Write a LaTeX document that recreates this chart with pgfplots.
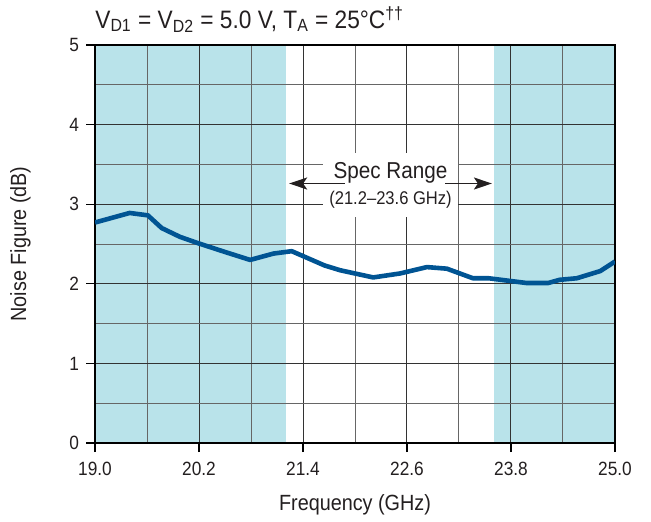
\documentclass[border=0pt]{standalone}
\usepackage{fontspec}
\setmainfont{Liberation Sans}[FakeStretch=0.9]
\usepackage{pgfplots}
\pgfplotsset{compat=1.18}
\usetikzlibrary{arrows.meta}

\definecolor{shade}{HTML}{B9E3EA}
\definecolor{nfblue}{RGB}{0,84,147}
\definecolor{txt}{HTML}{231F20}

\begin{document}
\begin{tikzpicture}
\begin{axis}[
    name=ax,
    set layers,
    scale only axis,
    width=260pt, height=199pt,
    xmin=19, xmax=25, ymin=0, ymax=5,
    xtick={19,20.2,21.4,22.6,23.8,25},
    ytick={0,1,2,3,4,5},
    minor x tick num=1,
    minor y tick num=1,
    grid=both,
    major grid style={black!80, line width=0.5pt},
    minor grid style={black!60, line width=0.5pt},
    axis line style={line width=1pt, black},
    tick align=outside,
    xtick pos=bottom, ytick pos=left,
    major tick length=4.5pt,
    minor tick length=0pt,
    tick style={black, line width=0.6pt},
    tick label style={font=\fontsize{9.6}{11}\selectfont, text=txt},
    /pgf/number format/assume math mode=true,
    xticklabel style={yshift=-1.5pt, /pgf/number format/.cd, fixed, fixed zerofill, precision=1},
    label style={font=\fontsize{11}{13}\selectfont, text=txt},
    xlabel={Frequency (GHz)},
    ylabel={Noise Figure (dB)},
    xlabel style={yshift=-2.5pt},
    ylabel style={yshift=12.5pt},
]
% out-of-spec bands
\addplot[on layer=axis background, fill=shade, draw=none]
    coordinates {(19,0) (21.2,0) (21.2,5) (19,5)} -- cycle;
\addplot[on layer=axis background, fill=shade, draw=none]
    coordinates {(23.6,0) (25,0) (25,5) (23.6,5)} -- cycle;

% noise figure curve
\addplot[nfblue, line width=2.3pt, line join=round, no markers] table {
x y
19.00 2.77
19.40 2.89
19.61 2.86
19.77 2.70
19.98 2.59
20.19 2.51
20.50 2.40
20.79 2.30
21.06 2.38
21.27 2.41
21.65 2.23
21.83 2.17
22.21 2.08
22.52 2.13
22.83 2.21
23.06 2.19
23.36 2.07
23.54 2.07
23.98 2.01
24.23 2.01
24.36 2.05
24.56 2.07
24.83 2.16
25.00 2.28
};

\node[fill=white, inner sep=0pt, minimum width=67.5pt, minimum height=32pt,
      align=center, text=txt] at (axis cs:22.41,3.24)
    {{\fontsize{11.5}{13}\selectfont Spec Range}\\[1pt]
     {\fontsize{9.2}{10}\selectfont (21.2–23.6 GHz)}};
\draw[txt, line width=0.9pt, -{Stealth[length=9pt, width=6pt, inset=2pt]}]
    (axis cs:21.88,3.26) -- (axis cs:21.24,3.26);
\draw[txt, line width=0.9pt, -{Stealth[length=9pt, width=6pt, inset=2pt]}]
    (axis cs:23.04,3.26) -- (axis cs:23.58,3.26);
\end{axis}
\node[anchor=base west, text=txt, font=\fontsize{12.6}{14}\selectfont, inner sep=0pt]
    at ([yshift=8.5pt]ax.north west)
    {V\textsubscript{D1} = V\textsubscript{D2} = 5.0 V, T\textsubscript{A} = 25°C\textsuperscript{††}};
\pgfresetboundingbox
\path[use as bounding box] ([shift={(-47.5pt,-39pt)}]ax.south west) rectangle ++(325.5pt,260.5pt);
\end{tikzpicture}
\end{document}
